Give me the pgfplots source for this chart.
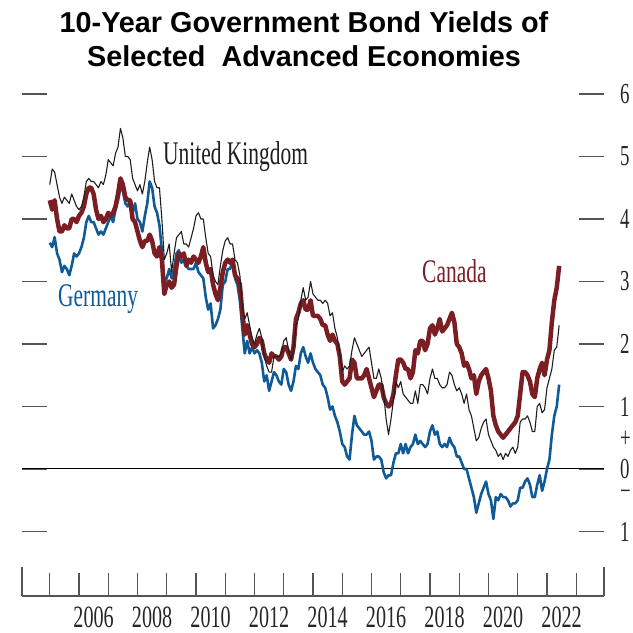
\documentclass[border=0pt]{standalone}
\usepackage{pgfplots}
\pgfplotsset{compat=1.18}
\usepackage{pgfplotstable}
\usepackage{fontspec}
\setmainfont{Liberation Serif}
\newfontfamily\cond{Liberation Serif}[FakeStretch=0.65]
\newfontfamily\titlef{Liberation Sans}
\definecolor{deblue}{RGB}{16,90,150}
\definecolor{camaroon}{RGB}{122,30,36}
\definecolor{ukblack}{RGB}{30,30,30}
\definecolor{tickgray}{RGB}{85,85,85}

% monthly, Jan 2005 - Jun 2022: Germany, Canada, United Kingdom
\pgfplotstableread{
de ca uk
3.62 4.30 4.55
3.55 4.15 4.80
3.71 4.30 4.75
3.45 4.00 4.55
3.35 3.80 4.35
3.15 3.80 4.25
3.25 3.90 4.35
3.20 3.85 4.30
3.10 3.85 4.25
3.25 4.00 4.40
3.45 4.00 4.30
3.40 3.95 4.20
3.45 4.05 4.15
3.55 4.10 4.20
3.70 4.20 4.35
3.95 4.40 4.60
4.05 4.50 4.65
3.95 4.50 4.60
3.95 4.40 4.60
3.85 4.15 4.55
3.75 4.00 4.50
3.80 4.05 4.60
3.75 3.95 4.55
3.85 4.00 4.70
3.95 4.10 4.95
4.05 4.05 4.90
3.95 4.10 4.85
4.15 4.20 5.05
4.30 4.40 5.15
4.50 4.65 5.45
4.45 4.55 5.30
4.25 4.35 5.00
4.20 4.30 5.00
4.30 4.30 4.95
4.10 4.00 4.65
4.25 3.95 4.55
4.00 3.80 4.45
3.95 3.65 4.55
3.80 3.55 4.40
4.05 3.65 4.60
4.25 3.65 4.90
4.60 3.75 5.15
4.50 3.65 4.95
4.20 3.45 4.60
4.10 3.40 4.50
3.90 3.55 4.50
3.50 3.35 4.00
3.00 2.80 3.35
3.05 2.95 3.45
3.20 3.00 3.60
3.05 2.90 3.15
3.20 2.95 3.45
3.45 3.25 3.70
3.50 3.45 3.75
3.30 3.40 3.80
3.35 3.45 3.60
3.25 3.25 3.60
3.20 3.35 3.55
3.20 3.30 3.70
3.20 3.40 3.85
3.30 3.35 4.05
3.15 3.30 4.10
3.10 3.40 4.00
3.05 3.55 4.00
2.75 3.30 3.70
2.55 3.15 3.45
2.65 3.20 3.40
2.25 2.95 3.10
2.30 2.80 3.00
2.40 2.70 2.95
2.55 2.90 3.25
2.95 3.15 3.50
3.00 3.30 3.65
3.20 3.35 3.70
3.20 3.30 3.60
3.35 3.35 3.60
3.05 3.10 3.35
2.95 3.05 3.30
2.70 2.95 3.10
2.25 2.50 2.60
1.85 2.15 2.40
2.05 2.30 2.50
1.85 2.15 2.30
1.95 2.00 2.10
1.85 1.95 2.00
1.90 2.00 2.15
1.85 2.10 2.25
1.70 2.05 2.10
1.40 1.85 1.80
1.50 1.75 1.65
1.25 1.70 1.55
1.40 1.85 1.55
1.55 1.80 1.80
1.50 1.80 1.80
1.40 1.75 1.80
1.35 1.80 1.85
1.60 1.95 2.05
1.55 1.95 2.10
1.35 1.85 1.90
1.25 1.75 1.75
1.40 1.95 1.90
1.65 2.40 2.30
1.60 2.50 2.40
1.85 2.65 2.70
1.95 2.70 2.90
1.80 2.55 2.70
1.70 2.55 2.75
1.85 2.70 3.00
1.70 2.45 2.80
1.60 2.45 2.75
1.55 2.45 2.70
1.50 2.40 2.70
1.35 2.30 2.65
1.30 2.30 2.70
1.15 2.15 2.65
0.95 2.05 2.45
1.00 2.15 2.50
0.85 2.05 2.25
0.75 2.00 2.10
0.60 1.80 1.85
0.40 1.40 1.55
0.35 1.35 1.65
0.20 1.40 1.60
0.15 1.45 1.65
0.55 1.75 1.90
0.85 1.70 2.10
0.70 1.45 2.00
0.65 1.45 1.90
0.60 1.45 1.80
0.55 1.50 1.85
0.55 1.60 1.90
0.60 1.45 1.95
0.45 1.30 1.70
0.15 1.15 1.45
0.20 1.25 1.45
0.20 1.35 1.60
0.15 1.35 1.45
-0.05 1.15 1.20
-0.15 1.05 0.80
-0.10 1.00 0.55
-0.10 1.05 0.80
0.10 1.20 1.10
0.25 1.50 1.40
0.25 1.75 1.30
0.40 1.75 1.40
0.25 1.70 1.20
0.40 1.60 1.15
0.25 1.60 1.10
0.35 1.45 1.05
0.40 1.55 1.05
0.55 1.90 1.25
0.40 1.85 1.05
0.45 2.05 1.35
0.40 2.05 1.35
0.35 1.90 1.30
0.40 2.00 1.20
0.60 2.25 1.45
0.70 2.30 1.60
0.55 2.15 1.45
0.60 2.25 1.45
0.40 2.40 1.35
0.35 2.20 1.30
0.40 2.25 1.30
0.35 2.30 1.35
0.50 2.40 1.55
0.40 2.50 1.50
0.35 2.35 1.35
0.20 2.00 1.25
0.20 1.95 1.30
0.10 1.85 1.20
0.00 1.65 1.05
0.00 1.70 1.20
-0.15 1.60 0.95
-0.30 1.45 0.85
-0.45 1.50 0.65
-0.70 1.20 0.45
-0.55 1.40 0.50
-0.40 1.50 0.65
-0.30 1.55 0.75
-0.20 1.60 0.80
-0.40 1.45 0.55
-0.50 1.25 0.45
-0.80 0.85 0.35
-0.45 0.70 0.30
-0.50 0.60 0.20
-0.40 0.55 0.25
-0.45 0.50 0.15
-0.45 0.55 0.25
-0.50 0.60 0.20
-0.60 0.65 0.30
-0.55 0.70 0.35
-0.55 0.75 0.25
-0.50 0.85 0.35
-0.30 1.20 0.75
-0.30 1.55 0.80
-0.20 1.55 0.80
-0.15 1.50 0.85
-0.25 1.40 0.75
-0.45 1.20 0.60
-0.45 1.15 0.60
-0.25 1.45 1.00
-0.10 1.60 1.05
-0.35 1.70 0.90
-0.20 1.50 0.95
0.00 1.75 1.30
0.15 1.90 1.45
0.55 2.35 1.60
0.85 2.70 1.90
1.00 2.90 1.95
1.35 3.25 2.30
}\data

\begin{document}
\begin{tikzpicture}
\begin{axis}[
  scale only axis,
  width=582pt, height=527pt,
  xmin=2004.051, xmax=2023.949,
  ymin=-2.032, ymax=6.4,
  axis line style={draw=none},
  clip=false,
  major tick length=0pt,
  tick style={draw=none},
  xtick={2006.5,2008.5,2010.5,2012.5,2014.5,2016.5,2018.5,2020.5,2022.5},
  xticklabels={2006,2008,2010,2012,2014,2016,2018,2020,2022},
  xticklabel style={font=\cond\fontsize{31}{31}\selectfont, text=black!85, inner sep=0pt, anchor=north, yshift=-11pt},
  ytick={-1,-0.50,0,0.34,1,2,3,4,5,6},
  yticklabels={1,\smash{−},0,\smash{+},1,2,3,4,5,6},
  yticklabel pos=right,
  yticklabel style={font=\cond\fontsize{29}{29}\selectfont, text=black!85, inner sep=0pt, anchor=west, xshift=16pt},
]
% frame decorations (all in axis coordinates)
\draw[tickgray, line width=1.3pt] (axis cs:2004.051,-2.032) -- (axis cs:2023.949,-2.032);
\draw[tickgray, line width=1.1pt] (axis cs:2004.051,-2.032) -- (axis cs:2004.051,-1.568);
\draw[tickgray, line width=1.1pt] (axis cs:2023.949,-2.032) -- (axis cs:2023.949,-1.568);
\pgfplotsinvokeforeach{2005,2006,2007,2008,2009,2010,2011,2012,2013,2014,2015,2016,2017,2018,2019,2020,2021,2022,2023}{
  \draw[tickgray, line width=1.1pt] (axis cs:#1,-2.032) -- (axis cs:#1,-1.664);
}
\pgfplotsinvokeforeach{-1,0,1,2,3,4,5,6}{
  \draw[tickgray, line width=1.2pt] (axis cs:2004.051,#1) -- (axis cs:2004.906,#1);
  \draw[tickgray, line width=1.2pt] (axis cs:2023.094,#1) -- (axis cs:2023.949,#1);
}
\draw[black, line width=1pt] (axis cs:2004.051,0) -- (axis cs:2023.949,0);

% series
\addplot[deblue, line width=2.6pt, line join=round] table[x expr={2005+\coordindex/12}, y=de]{\data};
\addplot[camaroon, line width=4.5pt, line join=round] table[x expr={2005+\coordindex/12}, y=ca]{\data};
\addplot[ukblack, line width=1.1pt, line join=round] table[x expr={2005+\coordindex/12}, y=uk]{\data};

% labels
\node[anchor=base west, inner sep=0pt, text=ukblack, font=\cond\fontsize{33}{33}\selectfont] at (axis cs:2008.872,4.864) {United Kingdom};
\node[anchor=base west, inner sep=0pt, text=deblue, font=\cond\fontsize{33}{33}\selectfont] at (axis cs:2005.282,2.592) {Germany};
\node[anchor=base west, inner sep=0pt, text=camaroon, font=\cond\fontsize{33}{33}\selectfont] at (axis cs:2017.727,2.976) {Canada};

% title
\node[anchor=base, inner sep=0pt, font=\titlef\bfseries\fontsize{28.8}{34}\selectfont] at (axis cs:2013.692,6.976) {10-Year Government Bond Yields of};
\node[anchor=base, inner sep=0pt, font=\titlef\bfseries\fontsize{28.8}{34}\selectfont] at (axis cs:2013.692,6.432) {Selected\ \ Advanced Economies};
\end{axis}
\pgfresetboundingbox
\path ([xshift=-22pt,yshift=-37pt]current axis.south west) rectangle ++(633pt,633pt);
\end{tikzpicture}
\end{document}
